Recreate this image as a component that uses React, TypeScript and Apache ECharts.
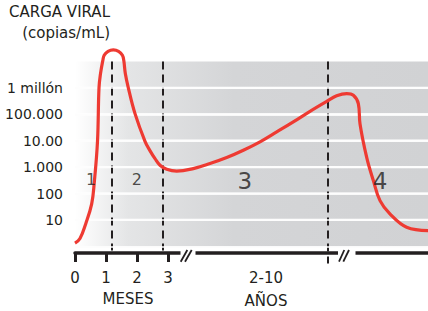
import React, { useEffect, useRef } from "react";
import * as echarts from "echarts";

// Viral load curve: x in "months-scale" units (0..11.4, breaks after 3), y in copies/mL (log)
const curveX = [0, 0.161, 0.345, 0.539, 0.623, 0.727, 0.775, 0.824, 0.898, 0.943, 1.0675, 1.237, 1.4067, 1.531, 1.576, 1.625, 1.722, 1.938, 2.261, 2.42, 2.584, 2.745, 2.962, 3.285, 3.821, 4.36, 4.9, 5.436, 5.975, 6.515, 7.05, 7.59, 8.13, 8.45, 8.776, 8.99, 9.15, 9.205, 9.42, 9.635, 9.85, 10.17, 10.71, 11.4];
const curveY = [1.32, 1.96, 7.05, 40.4, 265, 9660, 1000000, 3480000, 10800000, 17300000, 24300000, 27500000, 24300000, 17300000, 10800000, 3480000, 1000000, 106000, 9480, 4220, 2090, 1170, 826, 705, 877, 1358, 2291, 4325, 9016, 21500, 51500, 130000, 309000, 500000, 608000, 525000, 254000, 43200, 2345, 309, 53.7, 16.9, 5.25, 3.94];

const phaseBounds = [1.19, 2.84, 8.16];
const phaseBoundBottom = [0.687, 0.687, 0.222];

const regionLabels = ["1", "2", "3", "4"];
const regionX = [0.52, 2.0, 5.48, 9.85];
const regionY = [330, 330, 308, 295];
const regionSize = [16, 16, 23, 23];

const yTickValues = [1, 10, 100, 1000, 10000, 100000, 1000000, 10000000];
const yTickLabels = ["", "10", "100", "1.000", "10.00", "100.000", "1 millón", ""];
// Edges of the grey background bands; the light gaps between them are the grid lines
const bandEdges = [1, 10, 100, 1000, 10000, 100000, 1000000, 10000000];
const gridValues = [10, 100, 1000, 10000, 100000, 1000000];
const GAP = 1.1;

const xTickValues = [0, 1, 2, 3];
const xTickLabels = ["0", "1", "2", "3"];
const X_MIN = 0;
const X_MAX = 11.4;

const FONT = "DejaVu Sans";
const INK = "#231f20";
const GRIDLINE = "#fdfdfd";

export default function App() {
  const ref = useRef<HTMLDivElement>(null);
  useEffect(() => {
    document.body.style.margin = "0";
    const chart = echarts.init(ref.current!, null, { renderer: "svg" });
    const data = curveX.map((x, i) => [x, curveY[i]]);
    const bands = bandEdges.slice(0, -1).map((lo, i) => {
      const hi = bandEdges[i + 1];
      const y0 = i === 0 ? lo : lo * GAP;
      const y1 = i === bandEdges.length - 2 ? hi : hi / GAP;
      return [{ xAxis: X_MIN, yAxis: y0 }, { xAxis: X_MAX, yAxis: y1 }];
    });
    const gridLineData = gridValues.map((v) => [X_MIN, v]);
    const phaseLines = phaseBounds.map((x, i) => [
      { coord: [x, 10000000] },
      { coord: [x, phaseBoundBottom[i]] },
    ]);
    const option: any = {
      animation: false,
      grid: { left: 75, right: 0, top: 61.5, bottom: 47.34 },
      xAxis: {
        type: "value",
        min: X_MIN,
        max: X_MAX,
        offset: -10.66,
        z: 3,
        splitLine: { show: false },
        axisLine: { show: true, lineStyle: { color: INK, width: 3.5 } },
        axisTick: { show: true, customValues: xTickValues, length: 9, lineStyle: { color: INK, width: 3 } },
        axisLabel: {
          customValues: xTickValues,
          margin: 17,
          fontFamily: FONT,
          fontSize: 15,
          color: INK,
          formatter: (v: number) => xTickLabels[xTickValues.indexOf(v)] ?? "",
        },
      },
      yAxis: {
        type: "log",
        logBase: 10,
        min: 0.22,
        max: 10000000,
        z: 5,
        axisLine: { show: false },
        axisTick: { show: false },
        splitLine: { show: true, showMinLine: false, showMaxLine: false, lineStyle: { color: GRIDLINE, width: 1.6 } },
        axisLabel: {
          margin: 12,
          fontFamily: FONT,
          fontSize: 14,
          color: INK,
          formatter: (v: number) => {
            const i = yTickValues.findIndex((t) => Math.abs(t - v) / t < 1e-6);
            return i >= 0 ? yTickLabels[i] : "";
          },
        },
      },
      series: [
        {
          type: "line",
          data: [],
          silent: true,
          markArea: {
            silent: true,
            z: 1,
            label: { show: false },
            itemStyle: {
              borderWidth: 0,
              color: {
                type: "linear", x: 0, y: 0, x2: 1, y2: 0,
                colorStops: [
                  { offset: 0, color: "#ffffff" },
                  { offset: 0.15, color: "#e4e5e6" },
                  { offset: 0.45, color: "#d4d5d7" },
                  { offset: 1, color: "#d1d2d4" },
                ],
              },
            },
            data: bands,
          },
          z: 1,
        },
        {
          type: "custom",
          silent: true,
          clip: false,
          z: 3,
          data: gridLineData,
          renderItem: (params: any, api: any) => {
            const p = api.coord([api.value(0), api.value(1)]);
            const cs = params.coordSys;
            return {
              type: "line",
              z2: 10,
              shape: { x1: cs.x, y1: p[1], x2: cs.x + cs.width, y2: p[1] },
              style: { stroke: GRIDLINE, lineWidth: 1.6 },
            };
          },
        },
        {
          type: "line",
          data: [],
          clip: false,
          silent: true,
          markLine: {
            silent: true,
            z: 4,
            symbol: ["none", "none"],
            label: { show: false },
            lineStyle: { color: INK, width: 2, type: [8, 5] },
            data: phaseLines,
          },
          z: 4,
        },
        {
          type: "line",
          data,
          smooth: 0.4,
          showSymbol: false,
          clip: false,
          lineStyle: { color: "#ee3a32", width: 3.2 },
          z: 6,
        },
        {
          type: "scatter",
          symbolSize: 0,
          silent: true,
          data: regionX.map((x, i) => ({
            value: [x, regionY[i]],
            label: { show: true, position: "inside", formatter: regionLabels[i], fontSize: regionSize[i], fontFamily: FONT, color: INK },
          })),
          z: 7,
        },
      ],
      graphic: [
        { type: "text", x: 110, y: 12, style: { text: "CARGA VIRAL", font: `15px '${FONT}'`, fill: INK, textAlign: "right", textVerticalAlign: "middle" } },
        { type: "text", x: 110, y: 33, style: { text: "(copias/mL)", font: `15px '${FONT}'`, fill: INK, textAlign: "right", textVerticalAlign: "middle" } },
        { type: "rect", shape: { x: 180.5, y: 249, width: 15, height: 8 }, style: { fill: "#ffffff" }, z: 10 },
        { type: "rect", shape: { x: 338, y: 249, width: 17.5, height: 8 }, style: { fill: "#ffffff" }, z: 10 },
        { type: "line", shape: { x1: 180.7, y1: 261.7, x2: 187.3, y2: 250 }, style: { stroke: INK, lineWidth: 1.8 }, z: 11 },
        { type: "line", shape: { x1: 185, y1: 261.7, x2: 191.7, y2: 250 }, style: { stroke: INK, lineWidth: 1.8 }, z: 11 },
        { type: "line", shape: { x1: 339, y1: 261.7, x2: 344.3, y2: 250 }, style: { stroke: INK, lineWidth: 1.8 }, z: 11 },
        { type: "line", shape: { x1: 343.3, y1: 261.7, x2: 349, y2: 250 }, style: { stroke: INK, lineWidth: 1.8 }, z: 11 },
        { type: "text", x: 128, y: 299, style: { text: "MESES", font: `15px '${FONT}'`, fill: INK, textAlign: "center", textVerticalAlign: "middle" } },
        { type: "text", x: 266, y: 278, style: { text: "2-10", font: `15px '${FONT}'`, fill: INK, textAlign: "center", textVerticalAlign: "middle" } },
        { type: "text", x: 266, y: 300.5, style: { text: "AÑOS", font: `15px '${FONT}'`, fill: INK, textAlign: "center", textVerticalAlign: "middle" } },
      ],
    };
    chart.setOption(option);
    return () => chart.dispose();
  }, []);
  return <div ref={ref} style={{ width: 428, height: 311 }} />;
}
